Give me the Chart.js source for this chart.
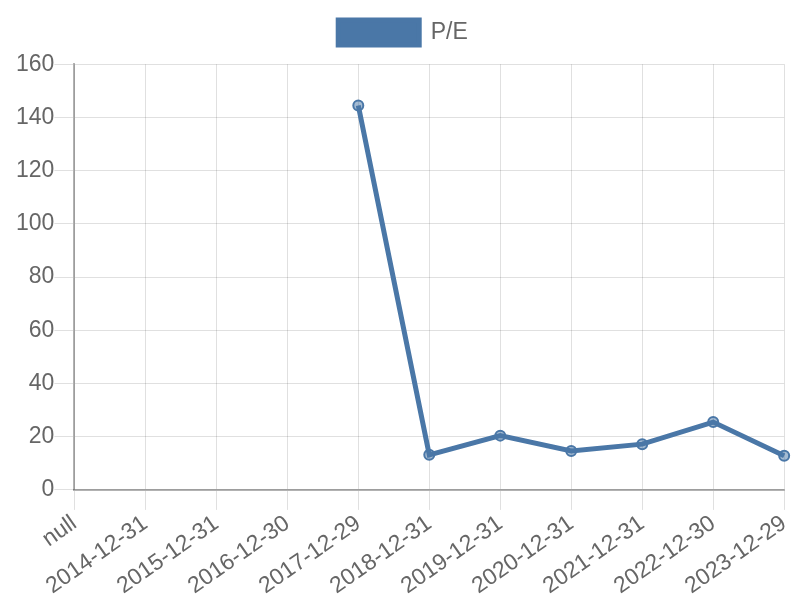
<!DOCTYPE html>
<html>
<head>
<meta charset="utf-8">
<script src="https://cdn.jsdelivr.net/npm/chart.js@4/dist/chart.umd.min.js"></script>
<style>
  html, body { margin: 0; padding: 0; background: #fff; }
  #wrap { width: 800px; height: 600px; }
</style>
</head>
<body>
<div id="wrap"><canvas id="chart" width="800" height="600"></canvas></div>
<script>
const labels = ['null', '2014-12-31', '2015-12-31', '2016-12-30', '2017-12-29', '2018-12-31',
    '2019-12-31', '2020-12-31', '2021-12-31', '2022-12-30', '2023-12-29'];
const peValues = [null, null, null, null, 144.5, 13.2, 20.4, 14.6, 17.2, 25.5, 12.8];
const yTicks = [0, 20, 40, 60, 80, 100, 120, 140, 160];

function renderChart() {
    const ctx = document.getElementById('chart').getContext('2d');
    new Chart(ctx, {
        type: 'line',
        data: {
            labels: labels,
            datasets: [{
                label: 'P/E',
                data: peValues,
                borderColor: 'rgb(74, 119, 167)',
                backgroundColor: 'rgb(74, 119, 167)',
                pointBackgroundColor: 'rgba(74, 119, 167, 0.5)',
                pointBorderColor: 'rgb(74, 119, 167)',
                pointBorderWidth: 2,
                pointRadius: 5,
                borderWidth: 5,
                tension: 0,
                fill: false
            }]
        },
        options: {
            responsive: false,
            animation: false,
            layout: { padding: { top: 3, right: 10, left: 16, bottom: 0 } },
            plugins: {
                legend: {
                    labels: {
                        boxWidth: 81,
                        boxHeight: 25,
                        padding: 17,
                        color: '#666',
                        font: { family: 'Liberation Sans', size: 23 }
                    }
                },
                // empty title used as a spacer under the legend
                title: {
                    display: true,
                    text: '',
                    weight: 500,
                    font: { size: 1 },
                    padding: { top: 4, bottom: 4 }
                },
                tooltip: { enabled: false }
            },
            scales: {
                x: {
                    grid: { color: 'rgba(0,0,0,0.12)', tickLength: 20 },
                    border: { color: 'rgba(0,0,0,0.3)', width: 2 },
                    ticks: {
                        color: '#666',
                        font: { family: 'Liberation Sans', size: 23 },
                        padding: 0,
                        maxRotation: 35,
                        minRotation: 35
                    }
                },
                y: {
                    min: 0,
                    max: 160,
                    afterBuildTicks: function (axis) {
                        axis.ticks = yTicks.map(v => ({ value: v }));
                    },
                    grid: { color: 'rgba(0,0,0,0.12)', tickLength: 20 },
                    border: { color: 'rgba(0,0,0,0.3)', width: 2 },
                    ticks: {
                        color: '#666',
                        font: { family: 'Liberation Sans', size: 23 },
                        padding: 0
                    }
                }
            }
        }
    });
}

document.addEventListener('DOMContentLoaded', renderChart);
</script>
</body>
</html>
